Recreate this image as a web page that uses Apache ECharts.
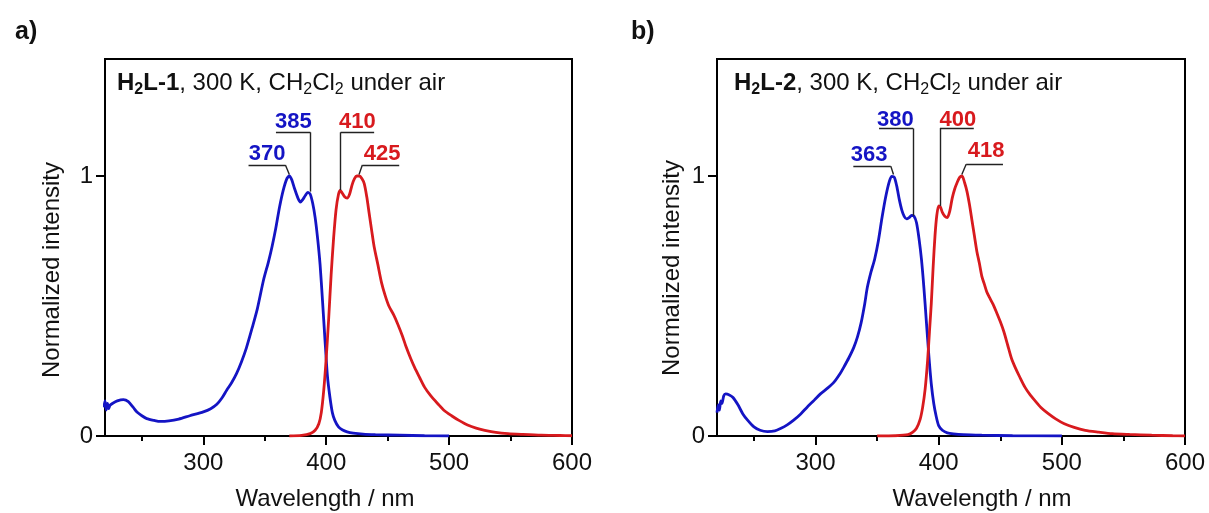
<!DOCTYPE html>
<html><head><meta charset="utf-8">
<script src="https://cdn.jsdelivr.net/npm/echarts@6/dist/echarts.min.js"></script>
<style>html,body{margin:0;padding:0;background:#fff}#c{width:1209px;height:513px}</style>
</head><body><div id="c"></div>
<script>
// ---- data: panel a (H2L-1) ----
var absA_x = [219,220,221,222,223,224,226,230,235,239,243,246,250,254,260,265,272,280,289,300,306,311,315,319,323,327,331,335,340,344,349,353,356,359,362,365,368,370,372,374,377,379,381,383,385,387,389,391,393,395,397,399,401,403,405,407,410,413,417,422,430,440,460,480,500];
var absA_y = [0.11,0.135,0.10,0.125,0.105,0.118,0.125,0.135,0.14,0.132,0.11,0.092,0.078,0.067,0.06,0.056,0.058,0.065,0.078,0.093,0.105,0.122,0.145,0.176,0.205,0.24,0.285,0.338,0.42,0.49,0.6,0.67,0.73,0.8,0.88,0.945,0.99,1.0,0.985,0.955,0.915,0.9,0.91,0.925,0.937,0.93,0.895,0.84,0.76,0.66,0.52,0.37,0.23,0.15,0.09,0.06,0.035,0.024,0.016,0.011,0.007,0.005,0.003,0.001,0];
var emA_x = [370,380,387,391,394,396,398,400,402,404,406,408,410,411.5,413,415,417,419,421,423,425,427,429,431,433,435,437,439,442,445,448,451,455,458,462,465,469,472,476,480,485,491,496,502,508,515,522,529,538,548,560,575,590,600];
var emA_y = [0,0.002,0.009,0.022,0.047,0.09,0.176,0.3,0.45,0.62,0.76,0.87,0.93,0.945,0.935,0.92,0.915,0.93,0.965,0.99,1.0,1.0,0.99,0.97,0.92,0.855,0.79,0.728,0.66,0.59,0.54,0.5,0.465,0.433,0.385,0.343,0.295,0.263,0.225,0.188,0.155,0.123,0.098,0.078,0.06,0.042,0.03,0.022,0.014,0.009,0.006,0.003,0.002,0.001];
// ---- data: panel b (H2L-2) ----
var absB_x = [220,221,222,223,224,225.5,227,230,233,237,241,245,250,255,261,267,272,277,282,288,293,299,304,310,315,320,323,327,331,334,337,340,342,345,348,351,354,357,360,362,364,366,368,370,372,374,376,378,380,382,384,386,388,390,392,394,396,398,400,403,407,412,420,435,460,500];
var absB_y = [0.09,0.12,0.10,0.135,0.125,0.155,0.162,0.158,0.148,0.12,0.085,0.06,0.035,0.022,0.017,0.02,0.03,0.043,0.06,0.085,0.11,0.138,0.162,0.185,0.207,0.24,0.265,0.3,0.34,0.38,0.435,0.51,0.57,0.63,0.68,0.75,0.84,0.92,0.98,0.998,0.995,0.96,0.91,0.87,0.845,0.835,0.84,0.848,0.845,0.82,0.76,0.68,0.57,0.44,0.31,0.2,0.125,0.075,0.04,0.022,0.012,0.008,0.005,0.003,0.001,0];
var emB_x = [350,365,375,379,382,385,387,389,391,392.5,394,395.5,397,398.5,400,401.5,403,405,407,409,411,413,415,417,419,421,423,425,427,429,431,433,435,437,439,441,444,447,450,453,456,459,462,466,470,474,478,483,489,495,502,510,519,530,541,555,573,590,600];
var emB_y = [0,0.001,0.005,0.015,0.03,0.065,0.111,0.18,0.29,0.4,0.51,0.65,0.77,0.85,0.885,0.88,0.86,0.845,0.84,0.865,0.915,0.95,0.975,0.995,1.0,0.975,0.94,0.89,0.83,0.77,0.71,0.665,0.615,0.585,0.555,0.535,0.508,0.475,0.44,0.4,0.35,0.3,0.265,0.225,0.188,0.16,0.137,0.11,0.086,0.066,0.047,0.033,0.022,0.015,0.009,0.006,0.003,0.001,0];
// tick values
var xMajorTicks = [300,400,500,600];
var xMinorTicks = [250,350,450,550];
var yTicks = [0,1];
// peak labels
var peaksA_abs = ['370','385'];
var peaksA_em = ['410','425'];
var peaksB_abs = ['363','380'];
var peaksB_em = ['400','418'];

// annotation geometry (label anchor + leader segments) in data coords
var annA_abs = [
  {label:[352,1.085], segs:[[[336.8,1.042],[366.8,1.042]],[[366.8,1.042],[370,1.006]]]},
  {label:[373.3,1.209], segs:[[[359.1,1.168],[387.2,1.168]],[[387.2,1.168],[387.2,0.94]]]}
];
var annA_em = [
  {label:[425.3,1.209], segs:[[[411.7,1.168],[439,1.168]],[[411.7,1.168],[411.7,0.946]]]},
  {label:[445.5,1.085], segs:[[[429.4,1.042],[459.4,1.042]],[[429.4,1.042],[426.7,1.006]]]}
];
var annB_abs = [
  {label:[343.5,1.08], segs:[[[330.7,1.038],[361.1,1.038]],[[361.1,1.038],[363.3,1.006]]]},
  {label:[364.8,1.215], segs:[[[351.6,1.183],[379.3,1.183]],[[379.3,1.183],[379.3,0.847]]]}
];
var annB_em = [
  {label:[415.5,1.215], segs:[[[401,1.183],[428.5,1.183]],[[401,1.183],[401,0.885]]]},
  {label:[438.5,1.096], segs:[[[422.3,1.045],[452.2,1.045]],[[422.3,1.045],[418.8,1.006]]]}
];

var BLUE = '#1414c4', RED = '#d81a1e';
var FONT = 'Liberation Sans, Arial, sans-serif';

function pairs(xs, ys){ return xs.map(function(x,i){ return [x, ys[i]]; }); }

function lineSeries(idx, xs, ys, color, names, ann){
  var segs = [];
  ann.forEach(function(a){ a.segs.forEach(function(s){ segs.push([{coord:s[0]},{coord:s[1]}]); }); });
  return {
    type:'line', xAxisIndex: idx*2, yAxisIndex: idx, data: pairs(xs, ys),
    showSymbol:false, smooth:0.25, lineStyle:{color:color, width:2.8}, itemStyle:{color:color},
    animation:false, z:3,
    markLine:{silent:true, symbol:['none','none'], animation:false, label:{show:false},
      lineStyle:{color:'#222', width:1.4, type:'solid'}, emphasis:{disabled:true}, data: segs},
    markPoint:{silent:true, symbol:'circle', symbolSize:0, animation:false,
      label:{show:true, position:'inside', color:color, fontSize:22, fontWeight:'bold', fontFamily:FONT,
        formatter:function(p){ return p.name; }},
      data: ann.map(function(a,i){ return {name:names[i], coord:a.label}; })}
  };
}

function xAxes(gi){
  return [
    {type:'value', gridIndex:gi, position:'bottom', min:220, max:600,
      axisLine:{show:true, onZero:false, lineStyle:{color:'#000', width:2}},
      axisTick:{show:true, inside:false, length:9, customValues:xMajorTicks, lineStyle:{color:'#000', width:2}},
      axisLabel:{show:true, customValues:xMajorTicks, margin:15, color:'#111', fontSize:24, fontFamily:FONT},
      splitLine:{show:false}},
    {type:'value', gridIndex:gi, position:'bottom', min:220, max:600,
      axisLine:{show:false, onZero:false},
      axisTick:{show:true, inside:false, length:5, customValues:xMinorTicks, lineStyle:{color:'#000', width:2}},
      axisLabel:{show:false}, splitLine:{show:false}}
  ];
}
function yAxis(gi){
  return {type:'value', gridIndex:gi, min:0, max:1.45,
    axisLine:{show:true, onZero:false, lineStyle:{color:'#000', width:2}},
    axisTick:{show:true, length:9, customValues:yTicks, lineStyle:{color:'#000', width:2}},
    axisLabel:{show:true, customValues:yTicks, margin:12, color:'#111', fontSize:24, fontFamily:FONT},
    splitLine:{show:false}};
}

function richTitle(bold){
  return '{b|H}{bs|2}{b|' + bold + '}{n|, 300 K, CH}{s|2}{n|Cl}{s|2}{n| under air}';
}
var richStyles = {
  b:{fontSize:24, fontWeight:'bold', color:'#111', fontFamily:FONT, lineHeight:30, verticalAlign:'middle'},
  bs:{fontSize:16, fontWeight:'bold', color:'#111', fontFamily:FONT, lineHeight:13, verticalAlign:'bottom'},
  n:{fontSize:24, fontWeight:'normal', color:'#111', fontFamily:FONT, lineHeight:30, verticalAlign:'middle'},
  s:{fontSize:16, fontWeight:'normal', color:'#111', fontFamily:FONT, lineHeight:13, verticalAlign:'bottom'}
};

var chart = echarts.init(document.getElementById('c'), null, {renderer:'canvas'});
chart.setOption({
  backgroundColor:'#fff',
  animation:false,
  title:[
    {text:'a)', left:10, top:15, textStyle:{fontSize:25, fontWeight:'bold', color:'#111', fontFamily:FONT}},
    {text:'b)', left:626, top:15, textStyle:{fontSize:25, fontWeight:'bold', color:'#111', fontFamily:FONT}},
    {text:richTitle('L-1'), left:112, top:63, textStyle:{fontWeight:'normal', rich:richStyles}},
    {text:richTitle('L-2'), left:729, top:63, textStyle:{fontWeight:'normal', rich:richStyles}}
  ],
  grid:[
    {left:105, top:59, width:467, height:377, show:true, borderColor:'#000', borderWidth:2, backgroundColor:'transparent'},
    {left:717, top:59, width:468, height:377, show:true, borderColor:'#000', borderWidth:2, backgroundColor:'transparent'}
  ],
  xAxis: xAxes(0).concat(xAxes(1)),
  yAxis: [yAxis(0), yAxis(1)],
  graphic:[
    {type:'text', x:52, y:270, rotation:Math.PI/2, style:{text:'Normalized intensity', fontSize:24, fontFamily:FONT, fill:'#111', align:'center', verticalAlign:'middle'}},
    {type:'text', x:672, y:268, rotation:Math.PI/2, style:{text:'Normalized intensity', fontSize:24, fontFamily:FONT, fill:'#111', align:'center', verticalAlign:'middle'}},
    {type:'text', x:325, y:499, style:{text:'Wavelength / nm', fontSize:24, fontFamily:FONT, fill:'#111', align:'center', verticalAlign:'middle'}},
    {type:'text', x:982, y:499, style:{text:'Wavelength / nm', fontSize:24, fontFamily:FONT, fill:'#111', align:'center', verticalAlign:'middle'}}
  ],
  series:[
    lineSeries(0, absA_x, absA_y, BLUE, peaksA_abs, annA_abs),
    lineSeries(0, emA_x, emA_y, RED, peaksA_em, annA_em),
    lineSeries(1, absB_x, absB_y, BLUE, peaksB_abs, annB_abs),
    lineSeries(1, emB_x, emB_y, RED, peaksB_em, annB_em)
  ]
});
</script></body></html>
